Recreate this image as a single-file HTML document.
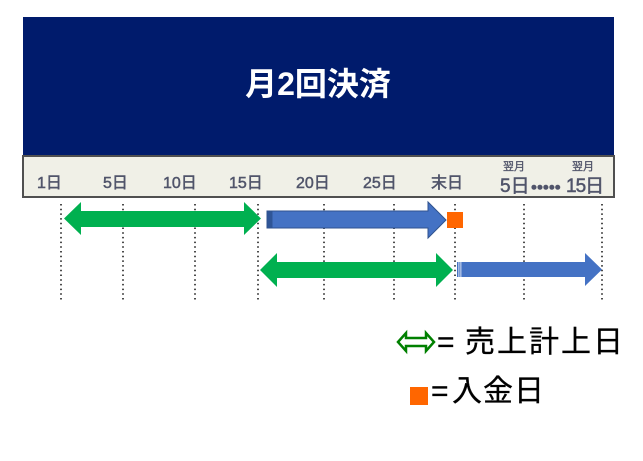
<!DOCTYPE html>
<html>
<head>
<meta charset="utf-8">
<style>
  html,body{margin:0;padding:0;background:#fff;}
  body{width:643px;height:461px;position:relative;overflow:hidden;font-family:"Liberation Sans","Noto Sans CJK JP",sans-serif;}
  .navy{position:absolute;left:23px;top:17px;width:591px;height:139px;background:#001B6C;}
  .title{position:absolute;left:0;top:67px;width:636px;text-align:center;color:#fff;font-weight:bold;font-size:32px;line-height:34px;font-family:"Liberation Sans","Noto Sans CJK JP",sans-serif;}
  .bar{position:absolute;left:22px;top:155px;width:589px;height:39px;background:#F0F0E7;border:2px solid #505050;}
  .lbl{position:absolute;color:#50546a;font-size:16px;line-height:16px;white-space:nowrap;-webkit-text-stroke:0.5px #50546a;font-family:"Liberation Sans","Noto Sans CJK JP",sans-serif;}
  .sm{position:absolute;color:#50546a;font-size:11px;line-height:11px;white-space:nowrap;-webkit-text-stroke:0.3px #50546a;font-family:"Liberation Sans","Noto Sans CJK JP",sans-serif;}
  .big{position:absolute;color:#50546a;font-size:19px;line-height:19px;white-space:nowrap;-webkit-text-stroke:0.5px #50546a;font-family:"Liberation Sans","Noto Sans CJK JP",sans-serif;}
  .leg{position:absolute;color:#000;font-size:30px;line-height:32px;white-space:nowrap;-webkit-text-stroke:0.3px #000;font-family:"Liberation Sans","Noto Sans CJK JP",sans-serif;}
</style>
</head>
<body>
<div class="navy"></div>
<div class="title">月2回決済</div>
<div class="bar"></div>

<div class="lbl" style="left:37px;top:176px;">1日</div>
<div class="lbl" style="left:103px;top:176px;">5日</div>
<div class="lbl" style="left:163px;top:176px;">10日</div>
<div class="lbl" style="left:229px;top:176px;">15日</div>
<div class="lbl" style="left:296px;top:176px;">20日</div>
<div class="lbl" style="left:363px;top:176px;">25日</div>
<div class="lbl" style="left:431px;top:176px;">末日</div>
<div class="sm" style="left:503px;top:162px;">翌月</div>
<div class="sm" style="left:572px;top:162px;">翌月</div>
<div class="big" style="left:500px;top:177px;">5日</div>
<div class="big" style="left:531px;top:178px;font-size:17px;letter-spacing:0px;">•••••</div>
<div class="big" style="left:566px;top:177px;letter-spacing:-1px;">15日</div>

<svg width="643" height="461" style="position:absolute;left:0;top:0;" xmlns="http://www.w3.org/2000/svg">
  <g stroke="#111" stroke-width="1.5" stroke-dasharray="1.5 3.2">
    <line x1="61" y1="204" x2="61" y2="302"/>
    <line x1="123" y1="204" x2="123" y2="302"/>
    <line x1="195" y1="204" x2="195" y2="302"/>
    <line x1="258" y1="204" x2="258" y2="302"/>
    <line x1="324" y1="204" x2="324" y2="302"/>
    <line x1="394" y1="204" x2="394" y2="302"/>
    <line x1="455" y1="204" x2="455" y2="302"/>
    <line x1="524" y1="204" x2="524" y2="302"/>
    <line x1="602" y1="204" x2="602" y2="302"/>
  </g>
  <!-- green arrow 1 -->
  <polygon fill="#00B050" points="64,218.5 81,202 81,211 244,211 244,202 261,218.5 244,235 244,227 81,227 81,235"/>
  <!-- blue arrow 1 -->
  <polygon fill="#4472C4" stroke="#2F528F" stroke-width="1" points="267,211 428,211 428,202 446,220 428,238 428,228 267,228"/>
  <rect x="267.5" y="211.5" width="5" height="16" fill="#2F5597"/>
  <!-- orange square -->
  <rect x="447" y="212" width="16" height="16" fill="#FF6600"/>
  <!-- green arrow 2 -->
  <polygon fill="#00B050" points="260,270 277,253 277,262 436,262 436,253 453,270 436,287 436,278 277,278 277,287"/>
  <!-- blue arrow 2 -->
  <polygon fill="#4472C4" points="457,262 585,262 585,253 602,269.5 585,286 585,277 457,277"/>
  <rect x="458.5" y="262" width="0.8" height="15" fill="#fff"/>
  <rect x="460.5" y="262" width="0.8" height="15" fill="#fff"/>
  <!-- legend double arrow -->
  <polygon fill="none" stroke="#008000" stroke-width="2.5" points="398,342 406,333 406,338 426,338 426,333 434,342 426,351 426,346 406,346 406,351"/>
  <!-- legend square -->
  <rect x="410" y="387" width="18" height="18" fill="#FF6600"/>
</svg>

<div class="leg" style="left:437px;top:327px;">=</div>
<div class="leg" style="left:465px;top:327px;letter-spacing:2px;">売上計上日</div>
<div class="leg" style="left:431px;top:376px;">=</div>
<div class="leg" style="left:452px;top:376px;letter-spacing:1px;">入金日</div>
</body>
</html>
